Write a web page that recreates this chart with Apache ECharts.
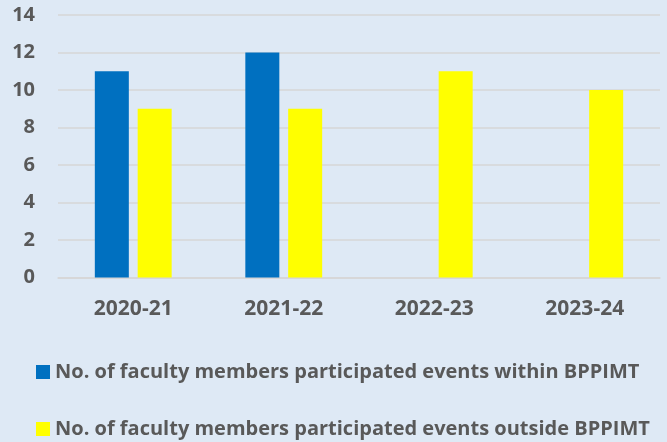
<!DOCTYPE html>
<html>
<head>
<meta charset="utf-8">
<script src="https://cdn.jsdelivr.net/npm/echarts@6/dist/echarts.min.js"></script>
<style>
html,body{margin:0;padding:0;background:#dee9f5;}
#chart{width:667px;height:442px;}
</style>
</head>
<body>
<div id="chart"></div>
<script>
const categories = ['2020-21', '2021-22', '2022-23', '2023-24'];
const withinValues = [11, 12, 0, 0];
const outsideValues = [9, 9, 11, 10];
const yTicks = { min: 0, max: 14, interval: 2 };
const seriesNames = [
  'No. of faculty members participated events within BPPIMT',
  'No. of faculty members participated events outside BPPIMT'
];

const txt = '#595959';
const font = '"Open Sans", sans-serif';
const chart = echarts.init(document.getElementById('chart'), null, { renderer: 'canvas' });
chart.setOption({
  backgroundColor: '#dee9f5',
  animation: false,
  textStyle: { fontFamily: font },
  grid: { left: 58, right: 7, top: 15, bottom: 164.5, containLabel: false },
  legend: [
    {
      data: [seriesNames[0]], left: 36, top: 362, padding: 0, itemWidth: 14, itemHeight: 14,
      icon: 'rect', itemGap: 5,
      textStyle: { color: txt, fontSize: 20, fontWeight: 'bold', fontFamily: font }
    },
    {
      data: [seriesNames[1]], left: 36, top: 419, padding: 0, itemWidth: 14, itemHeight: 14,
      icon: 'rect', itemGap: 5,
      textStyle: { color: txt, fontSize: 20, fontWeight: 'bold', fontFamily: font }
    }
  ],
  xAxis: {
    type: 'category',
    data: categories,
    axisLine: { show: true, lineStyle: { color: '#d6d6d6', width: 1.5 } },
    axisTick: { show: false },
    axisLabel: { color: txt, fontSize: 21, fontWeight: 'bold', margin: 21, fontFamily: font }
  },
  yAxis: {
    type: 'value',
    min: yTicks.min, max: yTicks.max, interval: yTicks.interval,
    axisLine: { show: false },
    axisTick: { show: false },
    splitLine: { lineStyle: { color: '#d6d6d6', width: 1.5 } },
    axisLabel: { color: txt, fontSize: 20, fontWeight: 'bold', margin: 23, fontFamily: font }
  },
  series: [
    {
      name: seriesNames[0], type: 'bar', data: withinValues,
      barWidth: 34, barGap: '26%',
      itemStyle: { color: '#0070c0' }
    },
    {
      name: seriesNames[1], type: 'bar', data: outsideValues,
      barWidth: 34, barGap: '26%',
      itemStyle: { color: '#ffff00' }
    }
  ]
});
</script>
</body>
</html>
